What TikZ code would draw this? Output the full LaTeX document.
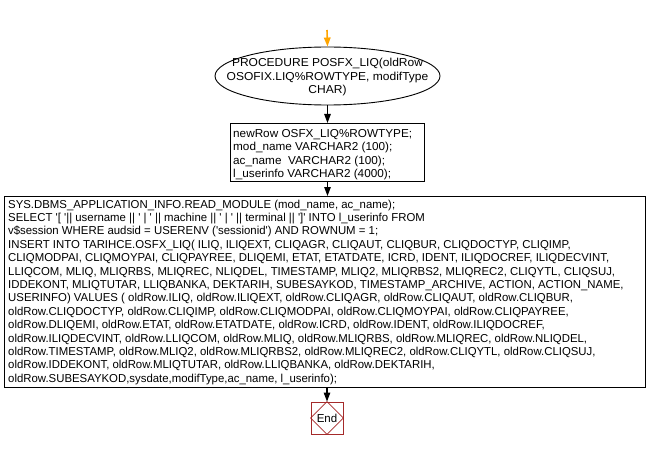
\documentclass[tikz,border=0pt]{standalone}
\usepackage{fontspec}
\usepackage{graphicx}
\setmainfont{Liberation Sans}
\usetikzlibrary{shapes.geometric,arrows.meta}
\newcommand\sq{\textquotesingle}
\definecolor{endred}{HTML}{A52A2A}
\definecolor{startor}{HTML}{FFA500}
\tikzset{
  txt/.style={inner sep=0pt, font=\fontsize{11.5}{13.4}\selectfont},
  boxshape/.style={draw, line width=0.9pt, inner sep=0pt},
  flow/.style={line width=1.2pt, -{Triangle[length=9pt,width=6.5pt]}},
}
\begin{document}
\begin{tikzpicture}[x=1pt,y=-1pt]
\useasboundingbox[fill=white] (0,0) rectangle (652,449);
% start
\coordinate (s) at (327,30);
\node[draw, ellipse, line width=0.9pt, minimum width=225pt, minimum height=58pt, inner sep=0pt] (proc) at (327.5,76) {};
\node[txt, anchor=north] (proct) at (327.5,57.3) {\scalebox{1.045}[1]{\begin{tabular}{@{}c@{}}PROCEDURE POSFX\_LIQ(oldRow\\OSOFIX.LIQ\%ROWTYPE, modifType\\CHAR)\end{tabular}}};
% declarations
\node[boxshape, minimum width=194pt, minimum height=58pt, anchor=north west] (decl) at (230,123) {};
\node[txt, anchor=north west] (declt) at (233,127.9) {\scalebox{1.022}[1]{\begin{tabular}{@{}l@{}}newRow OSFX\_LIQ\%ROWTYPE;\\mod\_name VARCHAR2 (100);\\ac\_name\ \ VARCHAR2 (100);\\l\_userinfo VARCHAR2 (4000);\end{tabular}}};
% body
\node[boxshape, minimum width=641pt, minimum height=191pt, anchor=north west] (body) at (4,196) {};
\node[txt, anchor=north west] (bodyt) at (8,198.6) {\scalebox{0.99}[1]{\begin{tabular}{@{}l@{}}SYS.DBMS\_APPLICATION\_INFO.READ\_MODULE (mod\_name, ac\_name);\\
SELECT \sq[ \sq|| username || \sq\ | \sq\ || machine || \sq\ | \sq\ || terminal || \sq]\sq\ INTO l\_userinfo FROM\\
v\$session WHERE audsid = USERENV (\sq sessionid\sq) AND ROWNUM = 1;\\
INSERT INTO TARIHCE.OSFX\_LIQ( ILIQ, ILIQEXT, CLIQAGR, CLIQAUT, CLIQBUR, CLIQDOCTYP, CLIQIMP,\\
CLIQMODPAI, CLIQMOYPAI, CLIQPAYREE, DLIQEMI, ETAT, ETATDATE, ICRD, IDENT, ILIQDOCREF, ILIQDECVINT,\\
LLIQCOM, MLIQ, MLIQRBS, MLIQREC, NLIQDEL, TIMESTAMP, MLIQ2, MLIQRBS2, MLIQREC2, CLIQYTL, CLIQSUJ,\\
IDDEKONT, MLIQTUTAR, LLIQBANKA, DEKTARIH, SUBESAYKOD, TIMESTAMP\_ARCHIVE, ACTION, ACTION\_NAME,\\
USERINFO) VALUES ( oldRow.ILIQ, oldRow.ILIQEXT, oldRow.CLIQAGR, oldRow.CLIQAUT, oldRow.CLIQBUR,\\
oldRow.CLIQDOCTYP, oldRow.CLIQIMP, oldRow.CLIQMODPAI, oldRow.CLIQMOYPAI, oldRow.CLIQPAYREE,\\
oldRow.DLIQEMI, oldRow.ETAT, oldRow.ETATDATE, oldRow.ICRD, oldRow.IDENT, oldRow.ILIQDOCREF,\\
oldRow.ILIQDECVINT, oldRow.LLIQCOM, oldRow.MLIQ, oldRow.MLIQRBS, oldRow.MLIQREC, oldRow.NLIQDEL,\\
oldRow.TIMESTAMP, oldRow.MLIQ2, oldRow.MLIQRBS2, oldRow.MLIQREC2, oldRow.CLIQYTL, oldRow.CLIQSUJ,\\
oldRow.IDDEKONT, oldRow.MLIQTUTAR, oldRow.LLIQBANKA, oldRow.DEKTARIH,\\
oldRow.SUBESAYKOD,sysdate,modifType,ac\_name, l\_userinfo);\end{tabular}}};
% end
\node[draw=endred, line width=0.9pt, minimum size=32pt, inner sep=0pt] (end) at (327,418) {};
\draw[endred, line width=0.7pt] (end.north) -- (end.east) -- (end.south) -- (end.west) -- cycle;
\node[txt] (endt) at (327,418) {End};
% connectors
\draw[flow, startor, line width=1.6pt] (s) -- (proc.north);
\draw[flow] (proc.south) -- (proc.south |- decl.north);
\draw[flow] (decl.south -| proc.south) -- (proc.south |- body.north);
\draw[flow] (body.south -| end.north) -- (end.north);
\end{tikzpicture}
\end{document}
